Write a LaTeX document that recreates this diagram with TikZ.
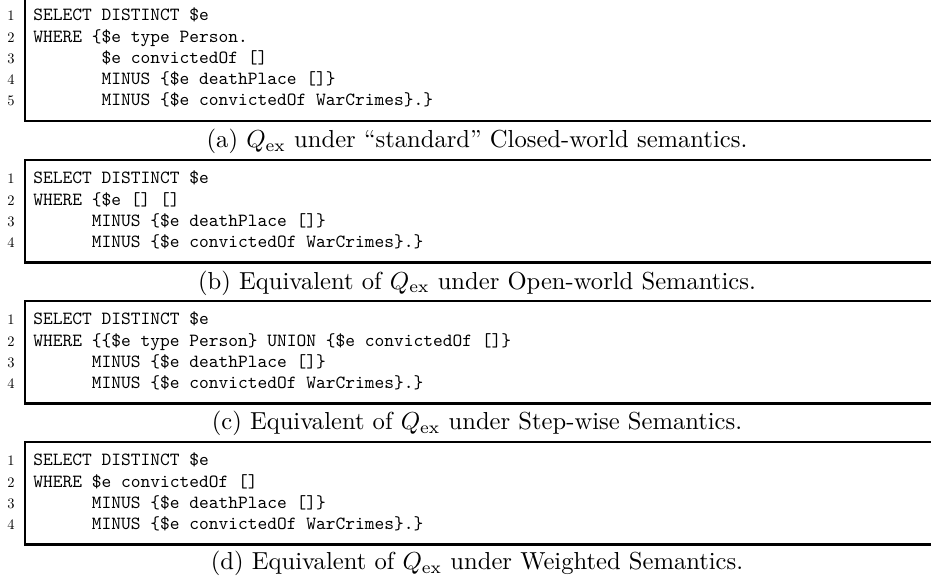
\documentclass[tikz,border=0pt]{standalone}
\begin{document}
\begin{tikzpicture}[x=1pt,y=-1pt,
  codeline/.style={anchor=base west,inner sep=0pt,scale=1.857,font=\ttfamily},
  lineno/.style={anchor=base east,inner sep=0pt,scale=1.45,font=\rmfamily},
  capline/.style={anchor=base,inner sep=0pt,scale=2.46},
  framerule/.style={line width=2.2pt}]
\useasboundingbox (0,0) rectangle (931,581);

% listing frames: top rule, left rule, bottom rule
\draw[framerule] (935,-2.3) -- (25,-2.3) -- (25,121) -- (935,121);
\draw[framerule] (935,160) -- (25,160) -- (25,262.5) -- (935,262.5);
\draw[framerule] (935,301) -- (25,301) -- (25,403.5) -- (935,403.5);
\draw[framerule] (935,442) -- (25,442) -- (25,544.5) -- (935,544.5);

% (a) closed-world query
\node[lineno] (na1) at (15,20.7) {1};
\node[lineno] (na2) at (15,42) {2};
\node[lineno] (na3) at (15,63.3) {3};
\node[lineno] (na4) at (15,84.6) {4};
\node[lineno] (na5) at (15,105.9) {5};
\node[codeline] (a1) at (33,20.7) {SELECT DISTINCT \$e};
\node[codeline] (a2) at (33,42) {WHERE \{\$e type Person.};
\node[codeline] (a3) at (101.25,63.3) {\$e convictedOf []};
\node[codeline] (a4) at (101.25,84.6) {MINUS \{\$e deathPlace []\}};
\node[codeline] (a5) at (101.25,105.9) {MINUS \{\$e convictedOf WarCrimes\}.\}};
\node[capline] (capa) at (477,147.5) {(a) $Q_{\mathrm{ex}}$ under ``standard'' Closed-world semantics.};

% (b) open-world
\node[lineno] (nb1) at (15,183.7) {1};
\node[lineno] (nb2) at (15,205) {2};
\node[lineno] (nb3) at (15,226.3) {3};
\node[lineno] (nb4) at (15,247.6) {4};
\node[codeline] (b1) at (33,183.7) {SELECT DISTINCT \$e};
\node[codeline] (b2) at (33,205) {WHERE \{\$e [] []};
\node[codeline] (b3) at (91.5,226.3) {MINUS \{\$e deathPlace []\}};
\node[codeline] (b4) at (91.5,247.6) {MINUS \{\$e convictedOf WarCrimes\}.\}};
\node[capline] (capb) at (477,289) {(b) Equivalent of $Q_{\mathrm{ex}}$ under Open-world Semantics.};

% (c) step-wise
\node[lineno] (nc1) at (15,324.7) {1};
\node[lineno] (nc2) at (15,346) {2};
\node[lineno] (nc3) at (15,367.3) {3};
\node[lineno] (nc4) at (15,388.6) {4};
\node[codeline] (c1) at (33,324.7) {SELECT DISTINCT \$e};
\node[codeline] (c2) at (33,346) {WHERE \{\{\$e type Person\} UNION \{\$e convictedOf []\}};
\node[codeline] (c3) at (91.5,367.3) {MINUS \{\$e deathPlace []\}};
\node[codeline] (c4) at (91.5,388.6) {MINUS \{\$e convictedOf WarCrimes\}.\}};
\node[capline] (capc) at (477,429.5) {(c) Equivalent of $Q_{\mathrm{ex}}$ under Step-wise Semantics.};

% (d) weighted
\node[lineno] (nd1) at (15,465.7) {1};
\node[lineno] (nd2) at (15,487) {2};
\node[lineno] (nd3) at (15,508.3) {3};
\node[lineno] (nd4) at (15,529.6) {4};
\node[codeline] (d1) at (33,465.7) {SELECT DISTINCT \$e};
\node[codeline] (d2) at (33,487) {WHERE \$e convictedOf []};
\node[codeline] (d3) at (91.5,508.3) {MINUS \{\$e deathPlace []\}};
\node[codeline] (d4) at (91.5,529.6) {MINUS \{\$e convictedOf WarCrimes\}.\}};
\node[capline] (capd) at (477,569.5) {(d) Equivalent of $Q_{\mathrm{ex}}$ under Weighted Semantics.};
\end{tikzpicture}
\end{document}
